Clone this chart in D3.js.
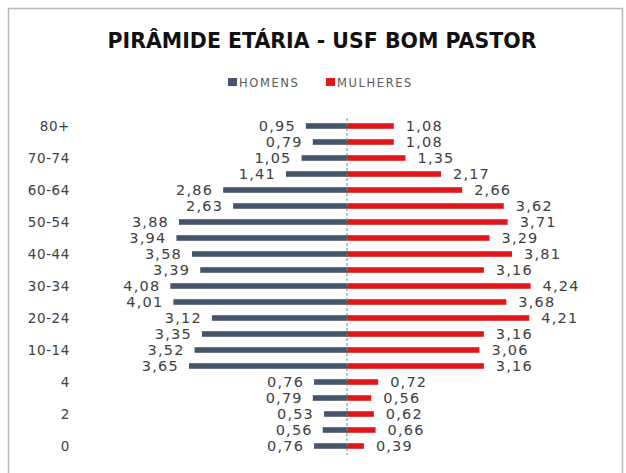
<!DOCTYPE html>
<html>
<head>
<meta charset="utf-8">
<script src="https://cdn.jsdelivr.net/npm/d3@7"></script>
<style>
  body { margin: 0; background: #fff; }
  text { font-family: "DejaVu Sans", sans-serif; }
</style>
</head>
<body>
<div id="chart"></div>
<script>
// faixas etárias, de cima para baixo
const ageGroups = ["80+", "75-79", "70-74", "65-69", "60-64", "55-59", "50-54", "45-49",
    "40-44", "35-39", "30-34", "25-29", "20-24", "15-19", "10-14", "5-9", "4", "3", "2", "1", "0"];
const shownLabels = ["80+", "70-74", "60-64", "50-54", "40-44", "30-34", "20-24", "10-14", "4", "2", "0"];
const homens = [0.95, 0.79, 1.05, 1.41, 2.86, 2.63, 3.88, 3.94, 3.58, 3.39, 4.08, 4.01,
    3.12, 3.35, 3.52, 3.65, 0.76, 0.79, 0.53, 0.56, 0.76];
const mulheres = [1.08, 1.08, 1.35, 2.17, 2.66, 3.62, 3.71, 3.29, 3.81, 3.16, 4.24, 3.68,
    4.21, 3.16, 3.06, 3.16, 0.72, 0.56, 0.62, 0.66, 0.39];
const seriesNames = ["HOMENS", "MULHERES"];
const colors = ["#44546a", "#e0161b"];

const width = 626, height = 473;
const fmt = v => d3.format(".2f")(v).replace(".", ",");

const svg = d3.create("svg")
    .attr("width", width)
    .attr("height", height);

// moldura
svg.append("rect")
    .attr("x", 8.5).attr("y", 8.5)
    .attr("width", 614).attr("height", 480)
    .attr("fill", "none")
    .attr("stroke", "#b8b8b8")
    .attr("stroke-width", 1.5);

svg.append("text")
    .attr("x", 322).attr("y", 48)
    .attr("text-anchor", "middle")
    .attr("font-size", 20.5)
    .attr("font-weight", "bold")
    .attr("fill", "#111")
    .text("PIRÂMIDE ETÁRIA - USF BOM PASTOR");

// legenda
const legend = svg.append("g")
    .selectAll("g")
    .data(seriesNames)
    .enter().append("g")
    .attr("transform", (d, i) => `translate(${i === 0 ? 228 : 326},78)`);
legend.append("rect")
    .attr("width", 9).attr("height", 8)
    .attr("fill", (d, i) => colors[i]);
legend.append("text")
    .attr("x", 11).attr("y", 8.5)
    .attr("font-size", 11.5)
    .attr("letter-spacing", 1.6)
    .attr("fill", "#595959")
    .text(d => d);

const x = d3.scaleLinear().domain([-5, 5]).range([130.5, 563.5]);
const y = d3.scaleBand().domain(ageGroups).range([118, 454]).paddingInner(0.65).paddingOuter(0.325);

// barras homens
svg.append("g")
    .selectAll("rect")
    .data(homens)
    .enter().append("rect")
    .attr("x", d => x(-d))
    .attr("y", (d, i) => y(ageGroups[i]))
    .attr("width", d => x(0) - x(-d))
    .attr("height", y.bandwidth())
    .attr("fill", colors[0]);

// barras mulheres
svg.append("g")
    .selectAll("rect")
    .data(mulheres)
    .enter().append("rect")
    .attr("x", x(0))
    .attr("y", (d, i) => y(ageGroups[i]))
    .attr("width", d => x(d) - x(0))
    .attr("height", y.bandwidth())
    .attr("fill", colors[1]);

// eixo central
svg.append("line")
    .attr("x1", x(0)).attr("x2", x(0))
    .attr("y1", 118).attr("y2", 455)
    .attr("stroke", "#8a7d74")
    .attr("stroke-width", 1)
    .attr("stroke-dasharray", "3,2");

const mid = i => y(ageGroups[i]) + y.bandwidth() / 2;

svg.append("g")
    .selectAll("text")
    .data(homens)
    .enter().append("text")
    .attr("x", d => x(-d) - 10)
    .attr("y", (d, i) => mid(i))
    .attr("dy", "0.36em")
    .attr("text-anchor", "end")
    .attr("font-size", 14.5)
    .attr("letter-spacing", 1.2)
    .attr("fill", "#404040")
    .text(fmt);

svg.append("g")
    .selectAll("text")
    .data(mulheres)
    .enter().append("text")
    .attr("x", d => x(d) + 12)
    .attr("y", (d, i) => mid(i))
    .attr("dy", "0.36em")
    .attr("font-size", 14.5)
    .attr("letter-spacing", 1.2)
    .attr("fill", "#404040")
    .text(fmt);

// rótulos das faixas
svg.append("g")
    .selectAll("text")
    .data(shownLabels)
    .enter().append("text")
    .attr("x", 70)
    .attr("y", d => y(d) + y.bandwidth() / 2)
    .attr("dy", "0.36em")
    .attr("text-anchor", "end")
    .attr("font-size", 13.5)
    .attr("letter-spacing", 0.6)
    .attr("fill", "#404040")
    .text(d => d);

document.getElementById("chart").appendChild(svg.node());
</script>
</body>
</html>
